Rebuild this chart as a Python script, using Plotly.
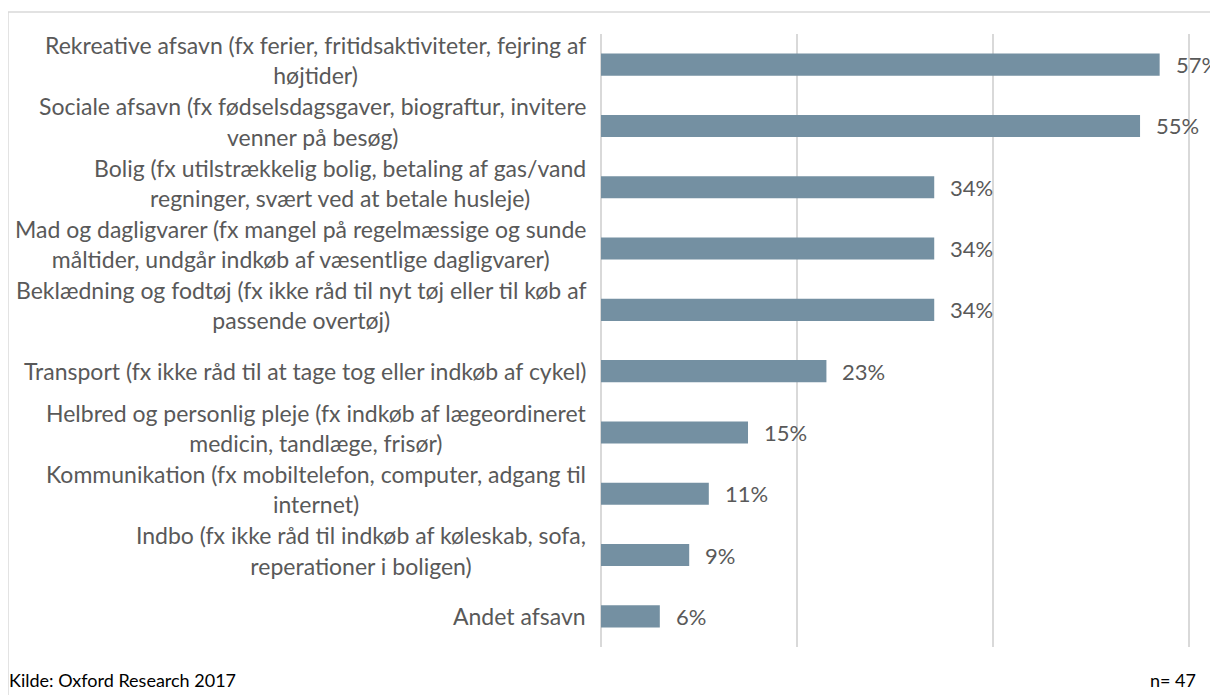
import plotly.graph_objects as go

categories = [
    ["Rekreative afsavn (fx ferier, fritidsaktiviteter, fejring af", "højtider)"],
    ["Sociale afsavn (fx fødselsdagsgaver, biograftur, invitere", "venner på besøg)"],
    ["Bolig (fx utilstrækkelig bolig, betaling af gas/vand", "regninger, svært ved at betale husleje)"],
    ["Mad og dagligvarer (fx mangel på regelmæssige og sunde", "måltider, undgår indkøb af væsentlige dagligvarer)"],
    ["Beklædning og fodtøj (fx ikke råd til nyt tøj eller til køb af", "passende overtøj)"],
    ["Transport (fx ikke råd til at tage tog eller indkøb af cykel)"],
    ["Helbred og personlig pleje (fx indkøb af lægeordineret", "medicin, tandlæge, frisør)"],
    ["Kommunikation (fx mobiltelefon, computer, adgang til", "internet)"],
    ["Indbo (fx ikke råd til indkøb af køleskab, sofa,", "reperationer i boligen)"],
    ["Andet afsavn"],
]
values = [57, 55, 34, 34, 34, 23, 15, 11, 9, 6]
x_ticks = [0, 20, 40, 60]
source_text = "Kilde: Oxford Research 2017"
n_text = "n= 47"

FONT = "Lato"
FS = 23
TXT = "#595959"
BAR = "#7490A2"
GRID = "#D9D9D9"

keys = [" ".join(c) for c in categories]

fig = go.Figure()
fig.add_trace(go.Bar(
    y=keys, x=values, orientation="h",
    marker=dict(color=BAR, line=dict(width=0)),
    width=0.36, cliponaxis=False, hoverinfo="skip",
))

annotations = []
SPREAD = 0.2
for k, lines in zip(keys, categories):
    if len(lines) == 1:
        annotations.append(dict(
            x=0, xref="paper", y=k, yref="y", text=lines[0],
            xanchor="right", yanchor="middle", align="center", showarrow=False,
            xshift=-13, font=dict(family=FONT, size=FS, color=TXT)))
    else:
        a_txt = lines[0] + "<br><span style='color:rgba(0,0,0,0)'>" + lines[1] + "</span>"
        b_txt = "<span style='color:rgba(0,0,0,0)'>" + lines[0] + "</span><br>" + lines[1]
        for txt, ys in [(a_txt, SPREAD / 2 + 4.5), (b_txt, -SPREAD / 2 + 4.5)]:
            annotations.append(dict(
                x=0, xref="paper", y=k, yref="y", text=txt,
                xanchor="right", yanchor="middle", align="center", showarrow=False,
                xshift=-13, yshift=ys, font=dict(family=FONT, size=FS, color=TXT)))

for k, v in zip(keys, values):
    annotations.append(dict(
        x=v, xref="x", y=k, yref="y", text=f"{v}%",
        xanchor="left", yanchor="middle", showarrow=False, xshift=14,
        font=dict(family=FONT, size=22, color=TXT)))

annotations.append(dict(
    x=-1.005, xref="paper", y=-0.054, yref="paper", text=source_text,
    xanchor="left", yanchor="middle", showarrow=False,
    font=dict(family=FONT, size=18, color="#000000")))
annotations.append(dict(
    x=1.0102, xref="paper", y=-0.054, yref="paper", text=n_text,
    xanchor="right", yanchor="middle", showarrow=False,
    font=dict(family=FONT, size=18, color="#000000")))

fig.update_layout(
    width=1210, height=687,
    margin=dict(l=593, r=26, t=26, b=48),
    paper_bgcolor="white", plot_bgcolor="white",
    showlegend=False,
    annotations=annotations,
    xaxis=dict(range=[0, 60.3], tickvals=x_ticks, showticklabels=False,
               showgrid=True, gridcolor=GRID, gridwidth=2,
               zeroline=True, zerolinecolor=GRID, zerolinewidth=2,
               showline=False, fixedrange=True),
    yaxis=dict(categoryorder="array", categoryarray=keys, autorange="reversed",
               showticklabels=False, showgrid=False, zeroline=False, showline=False),
    shapes=[dict(type="rect", xref="paper", yref="paper",
                 x0=-1.0034, x1=1.2, y0=-0.2, y1=1.036,
                 line=dict(color=GRID, width=1.5), fillcolor="rgba(0,0,0,0)",
                 layer="below")],
)

fig.write_html("out.html")
